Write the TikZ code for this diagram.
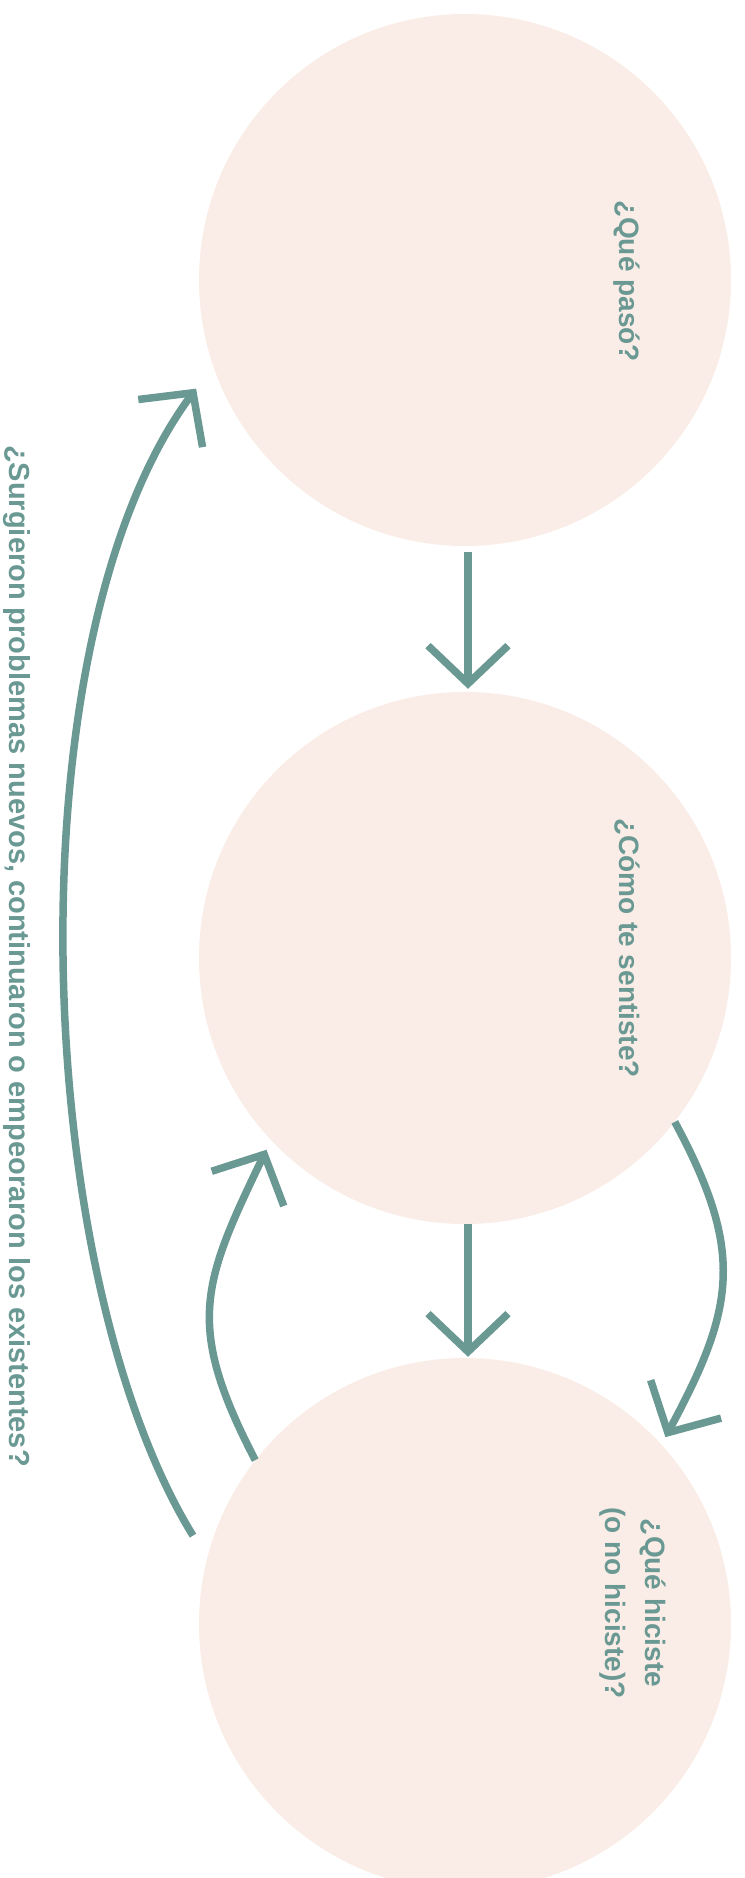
\documentclass[tikz,border=0pt]{standalone}
\usepackage{fontspec}
\setmainfont{Liberation Sans}
\usetikzlibrary{arrows.meta, calc}
\definecolor{Teal}{HTML}{6A9893}
\definecolor{Blush}{HTML}{FAECE6}
\tikzset{
	bubble/.style={circle, fill=Blush, minimum size=532pt, inner sep=0pt},
	flow/.style={Teal, line width=7.5pt, -{Straight Barb[length=38pt, width=80pt]}},
	ask/.style={text=Teal, font=\fontsize{28}{40}\selectfont\bfseries, rotate=-90, align=center}
}

\begin{document}
\begin{tikzpicture}[x=1pt, y=1pt]
	\useasboundingbox (0,0) rectangle (744,-1878);
	
	\node[bubble] (c1) at (465,-280) {};
	\node[bubble] (c2) at (465,-958) {};
	\node[bubble] (c3) at (465,-1624) {};
	
	\node[ask] (q1) at (627,-281) {¿Qué pasó?};
	\node[ask] (q2) at (627,-948) {¿Cómo te sentiste?};
	\node[ask] (q3) at (633,-1603) {¿Qué hiciste\\(o no hiciste)?};
	\node[ask, font=\fontsize{29}{40}\selectfont\bfseries] (q4) at (17,-956) {¿Surgieron problemas nuevos, continuaron o empeoraron los existentes?};
	
	\draw[flow, shorten <=6pt, shorten >=3pt] ([xshift=3pt]c1.south) -- ([xshift=3pt]c2.north);
	\draw[flow, shorten >=1pt] ([xshift=3pt]c2.south) -- ([xshift=3pt]c3.north);
	
	\draw[flow] (c2.-38) .. controls +(70,-130) and +(70,130) .. ($(c3.center)+(43:274)$);
	\draw[flow] (c3.142) .. controls +(-70,135) and +(-65,-135) .. ($(c2.center)+(-136:276)$);
	\draw[flow] ($(c3.center)+(162:286)$) .. controls +(-163,265) and +(-186,-251) .. ($(c1.center)+(-158:290)$);
\end{tikzpicture}
\end{document}
